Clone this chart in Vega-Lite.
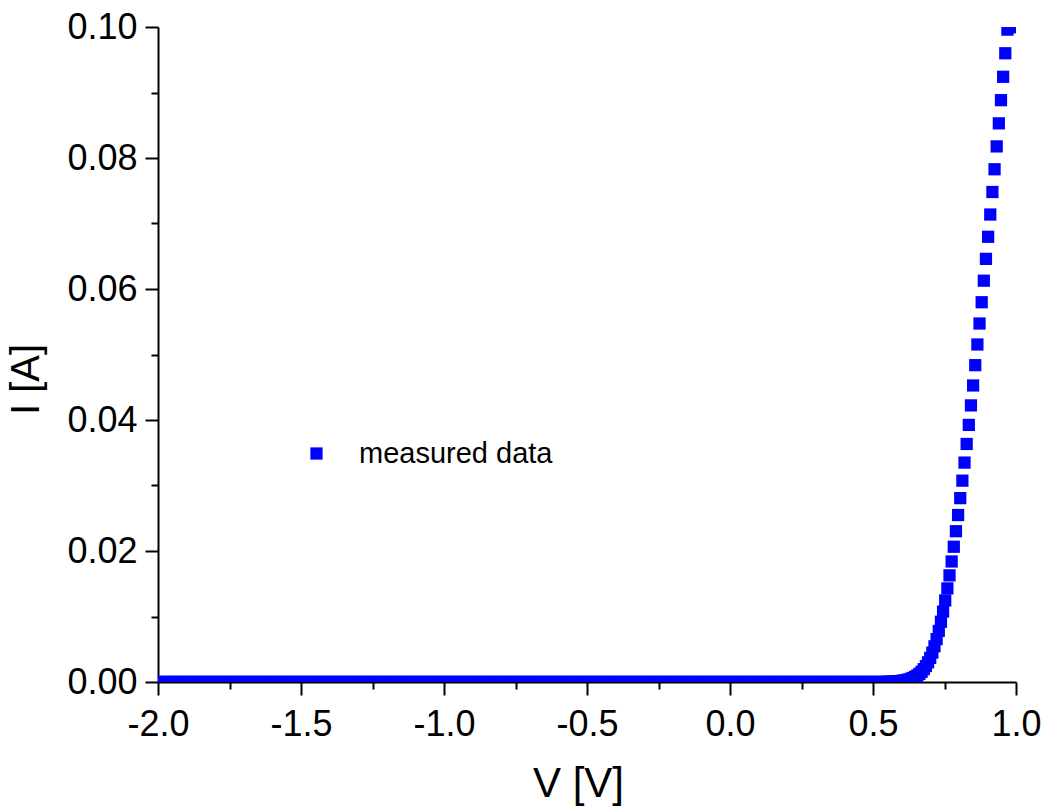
{
  "$schema": "https://vega.github.io/schema/vega-lite/v6.json",
  "width": 858,
  "height": 655,
  "autosize": {"type": "none"},
  "padding": {"left": 158, "top": 27, "right": 31, "bottom": 124},
  "background": "white",
  "config": {"view": {"stroke": null}, "font": "Liberation Sans"},
  "data": {"values": [
    {"V":-2,"I":0},{"V":-1.9925,"I":0},{"V":-1.985,"I":0},{"V":-1.9775,"I":0},
    {"V":-1.97,"I":0},{"V":-1.9625,"I":0},{"V":-1.955,"I":0},{"V":-1.9475,"I":0},
    {"V":-1.94,"I":0},{"V":-1.9325,"I":0},{"V":-1.925,"I":0},{"V":-1.9175,"I":0},
    {"V":-1.91,"I":0},{"V":-1.9025,"I":0},{"V":-1.895,"I":0},{"V":-1.8875,"I":0},
    {"V":-1.88,"I":0},{"V":-1.8725,"I":0},{"V":-1.865,"I":0},{"V":-1.8575,"I":0},
    {"V":-1.85,"I":0},{"V":-1.8425,"I":0},{"V":-1.835,"I":0},{"V":-1.8275,"I":0},
    {"V":-1.82,"I":0},{"V":-1.8125,"I":0},{"V":-1.805,"I":0},{"V":-1.7975,"I":0},
    {"V":-1.79,"I":0},{"V":-1.7825,"I":0},{"V":-1.775,"I":0},{"V":-1.7675,"I":0},
    {"V":-1.76,"I":0},{"V":-1.7525,"I":0},{"V":-1.745,"I":0},{"V":-1.7375,"I":0},
    {"V":-1.73,"I":0},{"V":-1.7225,"I":0},{"V":-1.715,"I":0},{"V":-1.7075,"I":0},
    {"V":-1.7,"I":0},{"V":-1.6925,"I":0},{"V":-1.685,"I":0},{"V":-1.6775,"I":0},
    {"V":-1.67,"I":0},{"V":-1.6625,"I":0},{"V":-1.655,"I":0},{"V":-1.6475,"I":0},
    {"V":-1.64,"I":0},{"V":-1.6325,"I":0},{"V":-1.625,"I":0},{"V":-1.6175,"I":0},
    {"V":-1.61,"I":0},{"V":-1.6025,"I":0},{"V":-1.595,"I":0},{"V":-1.5875,"I":0},
    {"V":-1.58,"I":0},{"V":-1.5725,"I":0},{"V":-1.565,"I":0},{"V":-1.5575,"I":0},
    {"V":-1.55,"I":0},{"V":-1.5425,"I":0},{"V":-1.535,"I":0},{"V":-1.5275,"I":0},
    {"V":-1.52,"I":0},{"V":-1.5125,"I":0},{"V":-1.505,"I":0},{"V":-1.4975,"I":0},
    {"V":-1.49,"I":0},{"V":-1.4825,"I":0},{"V":-1.475,"I":0},{"V":-1.4675,"I":0},
    {"V":-1.46,"I":0},{"V":-1.4525,"I":0},{"V":-1.445,"I":0},{"V":-1.4375,"I":0},
    {"V":-1.43,"I":0},{"V":-1.4225,"I":0},{"V":-1.415,"I":0},{"V":-1.4075,"I":0},
    {"V":-1.4,"I":0},{"V":-1.3925,"I":0},{"V":-1.385,"I":0},{"V":-1.3775,"I":0},
    {"V":-1.37,"I":0},{"V":-1.3625,"I":0},{"V":-1.355,"I":0},{"V":-1.3475,"I":0},
    {"V":-1.34,"I":0},{"V":-1.3325,"I":0},{"V":-1.325,"I":0},{"V":-1.3175,"I":0},
    {"V":-1.31,"I":0},{"V":-1.3025,"I":0},{"V":-1.295,"I":0},{"V":-1.2875,"I":0},
    {"V":-1.28,"I":0},{"V":-1.2725,"I":0},{"V":-1.265,"I":0},{"V":-1.2575,"I":0},
    {"V":-1.25,"I":0},{"V":-1.2425,"I":0},{"V":-1.235,"I":0},{"V":-1.2275,"I":0},
    {"V":-1.22,"I":0},{"V":-1.2125,"I":0},{"V":-1.205,"I":0},{"V":-1.1975,"I":0},
    {"V":-1.19,"I":0},{"V":-1.1825,"I":0},{"V":-1.175,"I":0},{"V":-1.1675,"I":0},
    {"V":-1.16,"I":0},{"V":-1.1525,"I":0},{"V":-1.145,"I":0},{"V":-1.1375,"I":0},
    {"V":-1.13,"I":0},{"V":-1.1225,"I":0},{"V":-1.115,"I":0},{"V":-1.1075,"I":0},
    {"V":-1.1,"I":0},{"V":-1.0925,"I":0},{"V":-1.085,"I":0},{"V":-1.0775,"I":0},
    {"V":-1.07,"I":0},{"V":-1.0625,"I":0},{"V":-1.055,"I":0},{"V":-1.0475,"I":0},
    {"V":-1.04,"I":0},{"V":-1.0325,"I":0},{"V":-1.025,"I":0},{"V":-1.0175,"I":0},
    {"V":-1.01,"I":0},{"V":-1.0025,"I":0},{"V":-0.995,"I":0},{"V":-0.9875,"I":0},
    {"V":-0.98,"I":0},{"V":-0.9725,"I":0},{"V":-0.965,"I":0},{"V":-0.9575,"I":0},
    {"V":-0.95,"I":0},{"V":-0.9425,"I":0},{"V":-0.935,"I":0},{"V":-0.9275,"I":0},
    {"V":-0.92,"I":0},{"V":-0.9125,"I":0},{"V":-0.905,"I":0},{"V":-0.8975,"I":0},
    {"V":-0.89,"I":0},{"V":-0.8825,"I":0},{"V":-0.875,"I":0},{"V":-0.8675,"I":0},
    {"V":-0.86,"I":0},{"V":-0.8525,"I":0},{"V":-0.845,"I":0},{"V":-0.8375,"I":0},
    {"V":-0.83,"I":0},{"V":-0.8225,"I":0},{"V":-0.815,"I":0},{"V":-0.8075,"I":0},
    {"V":-0.8,"I":0},{"V":-0.7925,"I":0},{"V":-0.785,"I":0},{"V":-0.7775,"I":0},
    {"V":-0.77,"I":0},{"V":-0.7625,"I":0},{"V":-0.755,"I":0},{"V":-0.7475,"I":0},
    {"V":-0.74,"I":0},{"V":-0.7325,"I":0},{"V":-0.725,"I":0},{"V":-0.7175,"I":0},
    {"V":-0.71,"I":0},{"V":-0.7025,"I":0},{"V":-0.695,"I":0},{"V":-0.6875,"I":0},
    {"V":-0.68,"I":0},{"V":-0.6725,"I":0},{"V":-0.665,"I":0},{"V":-0.6575,"I":0},
    {"V":-0.65,"I":0},{"V":-0.6425,"I":0},{"V":-0.635,"I":0},{"V":-0.6275,"I":0},
    {"V":-0.62,"I":0},{"V":-0.6125,"I":0},{"V":-0.605,"I":0},{"V":-0.5975,"I":0},
    {"V":-0.59,"I":0},{"V":-0.5825,"I":0},{"V":-0.575,"I":0},{"V":-0.5675,"I":0},
    {"V":-0.56,"I":0},{"V":-0.5525,"I":0},{"V":-0.545,"I":0},{"V":-0.5375,"I":0},
    {"V":-0.53,"I":0},{"V":-0.5225,"I":0},{"V":-0.515,"I":0},{"V":-0.5075,"I":0},
    {"V":-0.5,"I":0},{"V":-0.4925,"I":0},{"V":-0.485,"I":0},{"V":-0.4775,"I":0},
    {"V":-0.47,"I":0},{"V":-0.4625,"I":0},{"V":-0.455,"I":0},{"V":-0.4475,"I":0},
    {"V":-0.44,"I":0},{"V":-0.4325,"I":0},{"V":-0.425,"I":0},{"V":-0.4175,"I":0},
    {"V":-0.41,"I":0},{"V":-0.4025,"I":0},{"V":-0.395,"I":0},{"V":-0.3875,"I":0},
    {"V":-0.38,"I":0},{"V":-0.3725,"I":0},{"V":-0.365,"I":0},{"V":-0.3575,"I":0},
    {"V":-0.35,"I":0},{"V":-0.3425,"I":0},{"V":-0.335,"I":0},{"V":-0.3275,"I":0},
    {"V":-0.32,"I":0},{"V":-0.3125,"I":0},{"V":-0.305,"I":0},{"V":-0.2975,"I":0},
    {"V":-0.29,"I":0},{"V":-0.2825,"I":0},{"V":-0.275,"I":0},{"V":-0.2675,"I":0},
    {"V":-0.26,"I":0},{"V":-0.2525,"I":0},{"V":-0.245,"I":0},{"V":-0.2375,"I":0},
    {"V":-0.23,"I":0},{"V":-0.2225,"I":0},{"V":-0.215,"I":0},{"V":-0.2075,"I":0},
    {"V":-0.2,"I":0},{"V":-0.1925,"I":0},{"V":-0.185,"I":0},{"V":-0.1775,"I":0},
    {"V":-0.17,"I":0},{"V":-0.1625,"I":0},{"V":-0.155,"I":0},{"V":-0.1475,"I":0},
    {"V":-0.14,"I":0},{"V":-0.1325,"I":0},{"V":-0.125,"I":0},{"V":-0.1175,"I":0},
    {"V":-0.11,"I":0},{"V":-0.1025,"I":0},{"V":-0.095,"I":0},{"V":-0.0875,"I":0},
    {"V":-0.08,"I":0},{"V":-0.0725,"I":0},{"V":-0.065,"I":0},{"V":-0.0575,"I":0},
    {"V":-0.05,"I":0},{"V":-0.0425,"I":0},{"V":-0.035,"I":0},{"V":-0.0275,"I":0},
    {"V":-0.02,"I":0},{"V":-0.0125,"I":0},{"V":-0.005,"I":0},{"V":0.0025,"I":0},
    {"V":0.01,"I":0},{"V":0.0175,"I":0},{"V":0.025,"I":0},{"V":0.0325,"I":0},
    {"V":0.04,"I":0},{"V":0.0475,"I":0},{"V":0.055,"I":0},{"V":0.0625,"I":0},
    {"V":0.07,"I":0},{"V":0.0775,"I":0},{"V":0.085,"I":0},{"V":0.0925,"I":0},
    {"V":0.1,"I":0},{"V":0.1075,"I":0},{"V":0.115,"I":0},{"V":0.1225,"I":0},
    {"V":0.13,"I":0},{"V":0.1375,"I":0},{"V":0.145,"I":0},{"V":0.1525,"I":0},
    {"V":0.16,"I":0},{"V":0.1675,"I":0},{"V":0.175,"I":0},{"V":0.1825,"I":0},
    {"V":0.19,"I":0},{"V":0.1975,"I":0},{"V":0.205,"I":0},{"V":0.2125,"I":0},
    {"V":0.22,"I":0},{"V":0.2275,"I":0},{"V":0.235,"I":0},{"V":0.2425,"I":0},
    {"V":0.25,"I":0},{"V":0.2575,"I":0},{"V":0.265,"I":0},{"V":0.2725,"I":0},
    {"V":0.28,"I":0},{"V":0.2875,"I":0},{"V":0.295,"I":0},{"V":0.3025,"I":0},
    {"V":0.31,"I":0},{"V":0.3175,"I":0},{"V":0.325,"I":0},{"V":0.3325,"I":0},
    {"V":0.34,"I":0},{"V":0.3475,"I":0},{"V":0.355,"I":0},{"V":0.3625,"I":0},
    {"V":0.37,"I":0},{"V":0.3775,"I":0},{"V":0.385,"I":0},{"V":0.3925,"I":0},
    {"V":0.4,"I":0},{"V":0.4075,"I":0},{"V":0.415,"I":0},{"V":0.4225,"I":0},
    {"V":0.43,"I":0},{"V":0.4375,"I":0},{"V":0.445,"I":0},{"V":0.4525,"I":0},
    {"V":0.46,"I":0},{"V":0.4675,"I":0},{"V":0.475,"I":0},{"V":0.4825,"I":0},
    {"V":0.49,"I":0},{"V":0.4975,"I":0},{"V":0.505,"I":0},{"V":0.5125,"I":0},
    {"V":0.52,"I":0},{"V":0.5275,"I":0},{"V":0.535,"I":0},{"V":0.5425,"I":0},
    {"V":0.55,"I":0.00003},{"V":0.5575,"I":0.000044},{"V":0.565,"I":0.000056},{"V":0.5725,"I":0.00007},
    {"V":0.58,"I":0.000091},{"V":0.5875,"I":0.000116},{"V":0.595,"I":0.000148},{"V":0.6025,"I":0.000188},
    {"V":0.61,"I":0.00024},{"V":0.6175,"I":0.000305},{"V":0.625,"I":0.000388},{"V":0.6325,"I":0.000492},
    {"V":0.64,"I":0.000623},{"V":0.6475,"I":0.000788},{"V":0.655,"I":0.000994},{"V":0.6625,"I":0.00125},
    {"V":0.67,"I":0.001567},{"V":0.6775,"I":0.001956},{"V":0.685,"I":0.00243},{"V":0.6925,"I":0.003002},
    {"V":0.7,"I":0.003685},{"V":0.7075,"I":0.00449},{"V":0.715,"I":0.00545},{"V":0.7225,"I":0.00655},
    {"V":0.73,"I":0.0078},{"V":0.7375,"I":0.0092},{"V":0.745,"I":0.01075},{"V":0.7525,"I":0.01245},
    {"V":0.76,"I":0.01429},{"V":0.7675,"I":0.01628},{"V":0.775,"I":0.0184},{"V":0.7825,"I":0.02065},
    {"V":0.79,"I":0.02302},{"V":0.7975,"I":0.02549},{"V":0.805,"I":0.02807},{"V":0.8125,"I":0.03074},
    {"V":0.82,"I":0.0335},{"V":0.8275,"I":0.03634},{"V":0.835,"I":0.03925},{"V":0.8425,"I":0.04223},
    {"V":0.85,"I":0.04527},{"V":0.8575,"I":0.04837},{"V":0.865,"I":0.05153},{"V":0.8725,"I":0.05473},
    {"V":0.88,"I":0.05798},{"V":0.8875,"I":0.06127},{"V":0.895,"I":0.0646},{"V":0.9025,"I":0.06797},
    {"V":0.91,"I":0.07137},{"V":0.9175,"I":0.07481},{"V":0.925,"I":0.07828},{"V":0.9325,"I":0.08177},
    {"V":0.94,"I":0.08529},{"V":0.9475,"I":0.08883},{"V":0.955,"I":0.0924},{"V":0.9625,"I":0.09599},
    {"V":0.97,"I":0.0996},{"V":0.9775,"I":0.1},{"V":0.985,"I":0.1},{"V":0.9925,"I":0.1},
    {"V":1,"I":0.1}
  ]},
  "mark": {"type": "square", "size": 150, "opacity": 1, "clip": true},
  "encoding": {
    "x": {
      "field": "V",
      "type": "quantitative",
      "scale": {"domain": [-2, 1], "nice": false, "zero": false},
      "axis": {
        "title": "V [V]",
        "values": [-2, -1.75, -1.5, -1.25, -1, -0.75, -0.5, -0.25, 0, 0.25, 0.5, 0.75, 1],
        "labelExpr": "abs(datum.value*2 - round(datum.value*2)) < 0.001 ? replace(format(datum.value, '.1f'), '\u2212', '-') : ''",
        "tickSize": {"condition": {"test": "abs(datum.value*2 - round(datum.value*2)) < 0.001", "value": 13}, "value": 7},
        "tickWidth": 2,
        "tickColor": "black",
        "domainColor": "black",
        "domainWidth": 2,
        "grid": false,
        "labelFont": "Liberation Sans",
        "labelFontSize": 36,
        "labelColor": "black",
        "labelPadding": 12,
        "labelFlush": false,
        "labelOverlap": false,
        "labelBound": false,
        "titleFont": "Liberation Sans",
        "titleFontSize": 42,
        "titleFontWeight": "normal",
        "titleColor": "black",
        "titleBaseline": "alphabetic",
        "titleX": 420,
        "titleY": 114
      }
    },
    "y": {
      "field": "I",
      "type": "quantitative",
      "scale": {"domain": [0, 0.1], "nice": false, "zero": false},
      "axis": {
        "title": "I [A]",
        "values": [0, 0.01, 0.02, 0.03, 0.04, 0.05, 0.06, 0.07, 0.08, 0.09, 0.1],
        "labelExpr": "abs(datum.value*50 - round(datum.value*50)) < 0.001 ? format(datum.value, '.2f') : ''",
        "tickSize": {"condition": {"test": "abs(datum.value*50 - round(datum.value*50)) < 0.001", "value": 13}, "value": 7},
        "tickWidth": 2,
        "tickColor": "black",
        "domainColor": "black",
        "domainWidth": 2,
        "grid": false,
        "labelFont": "Liberation Sans",
        "labelFontSize": 36,
        "labelColor": "black",
        "labelPadding": 8,
        "labelFlush": false,
        "labelOverlap": false,
        "labelBound": false,
        "titleFont": "Liberation Sans",
        "titleFontSize": 40,
        "titleFontWeight": "normal",
        "titleColor": "black",
        "titleBaseline": "alphabetic",
        "titleX": -120,
        "titleY": 352
      }
    },
    "color": {
      "datum": "measured data",
      "type": "nominal",
      "scale": {"range": ["#0000ff"]},
      "legend": {
        "title": null,
        "orient": "none",
        "legendX": 144,
        "legendY": 412,
        "padding": 0,
        "symbolType": "square",
        "symbolSize": 150,
        "symbolStrokeWidth": 0,
        "symbolFillColor": "#0000ff",
        "symbolOpacity": 1,
        "labelFont": "Liberation Sans",
        "labelFontSize": 29,
        "labelColor": "black",
        "labelLimit": 0,
        "labelOffset": 28
      }
    }
  }
}
